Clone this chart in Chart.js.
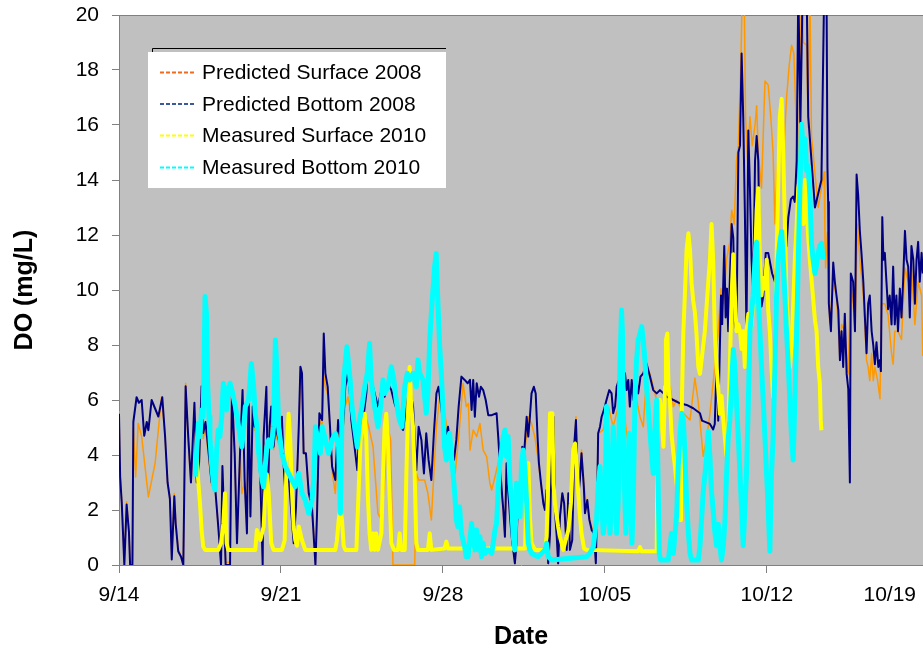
<!DOCTYPE html>
<html><head><meta charset="utf-8">
<script src="https://cdn.jsdelivr.net/npm/chart.js@4"></script>
<style>html,body{margin:0;padding:0;background:#fff;overflow:hidden}canvas{display:block}</style>
</head><body>
<canvas id="c" width="923" height="653"></canvas>
<script>
// ---- axis data ----
const tickDays = [0, 7, 14, 21, 28, 35];
const tickLabels = ['9/14', '9/21', '9/28', '10/05', '10/12', '10/19'];
const xMax = 34.75;          // days since 9/14 shown
const yMin = 0, yMax = 20, yStep = 2;
const seriesNames = ['Predicted Surface 2008', 'Predicted Bottom 2008', 'Measured Surface 2010', 'Measured Bottom 2010'];

// ---- Predicted Surface 2008 (days since 9/14, DO mg/L) ----
const psDay = [0.00,0.05,0.12,0.23,0.33,0.43,0.48,0.58,0.62,0.72,0.83,0.98,1.27,1.56,1.84,1.99,2.10,2.20,2.28,2.39,2.45,2.56,2.68,2.78,2.88,2.99,3.11,3.26,3.36,3.46,3.57,3.64,3.74,3.86,4.00,4.12,4.29,4.41,4.47,4.61,4.80,4.87,5.00,5.10,5.24,5.31,5.43,5.53,5.60,5.68,5.78,5.86,5.96,6.11,6.21,6.25,6.32,6.44,6.51,6.58,6.68,6.76,6.90,7.04,7.12,7.19,7.33,7.45,7.55,7.65,7.77,7.86,7.91,7.98,8.08,8.20,8.34,8.49,8.56,8.66,8.78,8.85,8.92,9.02,9.12,9.21,9.28,9.35,9.47,9.58,9.68,9.78,9.90,10.11,10.33,10.62,10.79,10.98,11.19,11.34,11.48,11.62,11.74,11.84,12.78,12.85,12.95,13.21,13.35,13.50,13.61,13.72,13.86,14.07,14.36,14.53,14.72,14.87,15.01,15.10,15.17,15.31,15.46,15.60,15.74,15.89,16.03,16.11,16.25,16.39,16.46,16.54,16.61,16.68,16.75,16.82,16.90,16.97,17.04,17.11,17.18,17.26,17.33,17.43,17.52,17.69,17.83,17.97,18.09,18.24,18.41,18.48,18.55,18.63,18.70,18.78,18.84,18.92,18.98,19.06,19.16,19.24,19.35,19.42,19.49,19.59,19.68,19.75,19.85,19.92,19.99,20.09,20.21,20.35,20.50,20.61,20.71,20.93,21.15,21.36,21.65,21.80,21.94,22.08,22.23,22.37,22.52,22.66,22.80,22.95,23.09,23.24,23.38,23.53,23.67,23.81,23.96,24.10,24.25,24.39,24.68,24.89,25.04,25.18,25.25,25.40,25.54,25.75,25.90,26.02,26.12,26.26,26.40,26.48,26.59,26.69,26.77,26.88,26.94,27.02,27.08,27.17,27.27,27.37,27.49,27.56,27.63,27.77,27.92,28.06,28.17,28.27,28.35,28.42,28.49,28.61,28.71,28.85,28.97,29.07,29.17,29.26,29.36,29.43,29.50,29.58,29.72,29.79,29.86,29.93,30.22,30.48,30.51,30.54,30.62,30.68,30.72,30.87,31.01,31.16,31.23,31.37,31.52,31.62,31.73,31.81,31.92,32.02,32.17,32.31,32.38,32.45,32.53,32.60,32.67,32.79,32.89,32.96,33.10,33.24,33.39,33.46,33.53,33.67,33.82,33.97,34.11,34.25,34.40,34.54,34.69,34.74];
const psDO = [5.6,3.3,2.3,0.1,2.3,1.2,0.1,0.1,5.0,3.2,5.15,4.67,2.48,3.70,6.12,4.67,3.0,2.5,0.3,2.6,1.6,0.6,0.3,0.1,6.61,4.5,3.0,5.6,3.0,3.4,6.2,4.6,5.0,4.0,2.9,3.1,1.4,0.1,3.4,0.1,0.1,5.8,4.0,0.9,4.1,2.6,3.0,1.3,5.9,1.9,5.5,4.9,5.0,3.1,0.2,4.4,2.6,2.8,4.8,5.5,4.2,4.8,4.4,5.2,3.6,2.7,3.3,2.0,0.9,2.2,4.9,7.2,6.8,4.2,4.0,2.7,2.2,0.1,2.0,5.3,5.0,6.9,6.5,6.2,5.0,3.4,3.0,2.6,4.8,4.3,4.9,5.8,6.12,5.03,4.06,5.52,5.03,4.30,1.88,1.64,3.09,5.03,4.55,0,0,3.33,3.09,3.09,2.61,1.64,3.33,5.03,6.12,5.52,4.06,3.33,5.03,6.61,5.76,5.88,4.18,4.91,4.67,5.15,4.18,3.94,2.97,2.73,3.21,3.70,3.5,2.6,2.0,1.1,3.5,2.6,1.8,1.1,0.6,0.1,0.8,2.6,1.8,4.1,4.0,5.39,5.15,4.67,4.0,2.9,2.0,2.6,0.1,1.2,4.5,5.2,2.0,1.1,0.1,1.7,2.6,2.24,0.6,2.6,0.6,0.9,4.3,5.39,2.6,3.4,4.18,3.0,2.12,1.64,1.15,0.18,4.79,4.91,5.76,5.03,6.0,5.76,4.79,4.06,4.79,6.0,5.39,5.03,6.85,6.97,6.48,6.0,5.03,5.52,6.24,6.48,5.76,6.0,5.76,5.52,5.27,6.8,5.9,4.6,3.95,4.6,5.5,7.2,8.5,10.05,9.5,11.1,11.75,12.9,12.4,14.7,15.25,18.3,21,21,16.3,14.7,16.3,15.25,16.0,16.7,15.0,13.7,17.6,17.45,16.3,15.0,12.4,13.7,15.0,16.3,14.7,16.95,18.2,18.9,18.6,16.3,13.7,17.6,21,19,18.9,15.9,21,15.6,13.0,14.3,12.1,10.8,12.1,9.8,8.75,10.3,9.8,7.45,8.75,8.5,6.95,10.3,9.5,8.5,12.4,11.1,9.8,7.45,7.2,6.7,7.7,6.7,7.2,6.7,6.05,9.5,9.5,9.1,7.7,7.3,8.5,8.5,8.2,10.8,10.3,10.8,8.75,10.3,9.8,7.6];

// ---- Predicted Bottom 2008 ----
const pbDay = [0.00,0.05,0.12,0.23,0.33,0.43,0.48,0.58,0.62,0.76,0.86,0.98,1.09,1.20,1.27,1.41,1.70,1.87,1.99,2.10,2.20,2.28,2.39,2.45,2.56,2.68,2.78,2.88,2.99,3.11,3.26,3.36,3.46,3.57,3.64,3.74,3.86,4.00,4.12,4.29,4.41,4.47,4.61,4.80,4.88,5.00,5.10,5.24,5.34,5.43,5.53,5.60,5.68,5.78,5.86,5.96,6.11,6.21,6.25,6.37,6.44,6.51,6.58,6.68,6.76,6.90,7.04,7.12,7.19,7.33,7.45,7.55,7.65,7.77,7.84,7.91,7.98,8.08,8.20,8.34,8.49,8.56,8.66,8.78,8.85,8.92,9.02,9.12,9.21,9.28,9.35,9.47,9.58,9.68,9.78,9.89,9.99,10.04,10.18,10.30,10.40,10.55,10.69,10.79,10.90,11.05,11.19,11.34,11.48,11.62,11.77,11.91,12.06,12.20,12.28,12.42,12.56,12.71,12.85,12.95,13.07,13.18,13.28,13.38,13.50,13.61,13.72,13.81,13.93,14.07,14.22,14.36,14.48,14.58,14.68,14.80,14.94,15.07,15.17,15.24,15.31,15.38,15.46,15.56,15.64,15.74,15.85,15.96,16.11,16.32,16.39,16.46,16.54,16.61,16.68,16.75,16.82,16.90,16.97,17.04,17.11,17.18,17.26,17.33,17.43,17.52,17.62,17.69,17.76,17.83,17.93,18.01,18.09,18.15,18.24,18.34,18.41,18.48,18.55,18.63,18.70,18.78,18.84,18.92,18.98,19.06,19.16,19.24,19.35,19.42,19.49,19.59,19.68,19.75,19.85,19.92,19.99,20.09,20.14,20.24,20.33,20.43,20.53,20.61,20.67,20.71,20.79,20.86,20.96,21.07,21.19,21.29,21.36,21.44,21.51,21.58,21.65,21.77,21.87,21.94,22.01,22.08,22.16,22.23,22.34,22.44,22.54,22.66,22.80,22.95,23.09,23.24,23.38,23.53,23.67,23.96,24.25,24.53,24.82,25.11,25.20,25.54,25.68,25.75,25.83,25.90,26.02,26.07,26.16,26.22,26.28,26.33,26.40,26.48,26.55,26.62,26.69,26.77,26.84,26.91,26.98,27.05,27.12,27.20,27.27,27.34,27.41,27.49,27.56,27.63,27.70,27.77,27.85,27.95,28.06,28.23,28.35,28.42,28.64,28.85,28.93,29.04,29.14,29.21,29.29,29.36,29.45,29.55,29.72,29.79,30.08,30.36,30.48,30.58,30.62,30.65,30.68,30.77,30.87,30.94,31.01,31.09,31.16,31.23,31.30,31.37,31.45,31.52,31.59,31.63,31.73,31.81,31.88,31.95,32.02,32.09,32.17,32.24,32.31,32.38,32.45,32.53,32.60,32.67,32.74,32.82,32.89,32.93,32.99,33.04,33.10,33.17,33.24,33.31,33.39,33.46,33.53,33.60,33.67,33.75,33.82,33.89,33.97,34.04,34.11,34.18,34.25,34.33,34.40,34.47,34.54,34.61,34.69,34.74];
const pbDO = [5.5,3.2,2.25,0,2.2,1.2,0,0,5.2,6.1,5.9,6.0,4.7,5.2,4.9,6.0,5.4,6.1,4.7,3.0,2.4,0.2,2.5,1.5,0.5,0.3,0,6.5,4.7,3.0,5.9,3.0,3.7,6.5,4.8,5.2,4.2,3.0,3.2,1.4,0,3.6,0,0,6.3,4.06,0.79,4.30,6.36,3.09,1.15,6.36,1.76,5.76,5.03,5.27,3.09,0,4.67,6.48,2.61,5.03,5.76,4.30,5.03,4.55,5.39,3.58,2.61,3.33,1.88,0.79,2.12,5.03,7.21,6.97,4.06,4.06,2.61,2.12,0,1.88,5.52,5.27,8.42,6.97,6.48,5.03,3.58,3.33,3.09,5.27,4.55,5.03,6.48,6.97,6.1,5.27,4.30,3.45,5.03,5.27,6.24,7.58,6.73,6.24,5.76,6.36,6.12,6.61,6.36,5.88,5.52,5.03,4.91,5.76,6.48,5.76,3.45,5.03,4.55,3.33,4.79,3.82,3.09,4.79,6.24,6.48,5.76,4.55,5.03,4.06,3.82,4.55,5.76,6.85,6.73,6.61,6.73,5.64,6.73,5.39,6.61,6.12,6.48,6.36,6.0,5.45,5.45,5.52,4.67,3.70,2.73,2.0,1.03,3.70,2.73,1.76,1.03,0.55,0.06,0.79,2.73,1.76,4.30,4.18,5.39,4.67,5.39,6.24,6.48,6.24,4.67,3.70,2.97,2.24,2.0,2.73,0.06,1.15,4.67,5.39,2.0,1.03,0.06,1.76,2.61,2.24,0.55,2.61,0.55,0.91,4.42,5.27,2.48,3.09,4.06,2.85,1.88,2.36,1.64,1.27,1.15,0.06,2.61,4.79,5.03,5.39,5.64,6.0,6.36,6.24,5.52,5.76,6.48,6.67,6.48,5.52,6.97,6.36,6.73,5.76,6.73,6.0,6.85,6.24,6.85,6.97,7.33,6.85,6.36,6.24,6.36,6.24,6.12,6.0,5.88,5.82,5.70,5.52,5.25,5.13,4.93,5.13,7.33,5.25,9.8,8.76,11.6,9.0,10.05,8.5,10.3,12.4,11.9,8.75,8.5,15.0,15.25,18.6,16.3,12.9,8.5,15.8,13.7,11.1,9.8,14.7,15.6,14.7,11.1,9.4,9.8,11.35,11.35,10.6,10.3,11.1,11.2,11.6,12.65,13.3,13.4,13.2,14.7,21,16.0,21,21,16.3,13.0,14.0,21,21,14.47,13.2,9.5,8.5,11.0,10.3,9.8,9.27,7.45,8.5,7.2,9.14,6.95,6.4,3.0,10.6,10.3,8.5,14.2,13.43,12.15,11.35,10.3,9.0,7.7,9.5,9.8,8.5,8.0,7.3,8.1,7.2,7.45,7.05,12.65,11.1,11.35,10.3,9.3,9.8,8.75,10.85,8.75,9.8,8.5,10.05,9.0,10.3,12.15,11.1,10.85,9.0,11.6,11.1,9.5,11.1,11.75,10.3,11.35,10.6];

// ---- Measured Surface 2010 ----
const msDay = [3.36,3.43,3.50,3.57,3.64,3.72,4.29,4.41,4.51,4.58,4.65,4.72,5.89,5.96,6.11,6.25,6.32,6.39,6.47,6.58,6.68,7.04,7.16,7.26,7.33,7.40,7.48,7.55,7.62,7.69,7.77,7.84,7.91,8.05,9.35,9.42,9.49,9.57,9.64,9.71,9.78,10.26,10.33,10.44,10.54,10.62,10.69,10.76,10.83,10.90,10.98,11.05,11.12,11.19,11.34,11.41,11.48,11.55,11.62,11.70,11.77,11.88,12.06,12.13,12.20,12.35,12.42,12.49,12.56,12.63,12.71,12.78,12.85,12.92,13.35,13.43,13.50,14.07,14.15,14.22,17.55,17.62,17.69,17.76,17.83,17.98,18.41,18.48,18.55,18.63,18.73,18.78,18.84,18.92,18.98,19.06,19.13,19.20,19.27,19.35,19.42,19.53,19.63,19.71,19.78,19.85,19.92,19.99,20.10,20.21,22.44,22.52,22.59,23.24,23.26,23.32,23.38,23.45,23.53,23.60,23.64,23.70,23.75,23.81,23.88,23.96,24.03,24.10,24.17,24.22,24.25,24.29,24.33,24.39,24.46,24.53,24.61,24.68,24.75,24.82,24.89,24.96,25.04,25.11,25.18,25.32,25.47,25.54,25.61,25.68,25.75,25.83,25.90,25.97,26.04,26.12,26.19,26.26,26.33,26.40,26.48,26.55,26.62,26.69,26.77,26.84,26.91,26.98,27.05,27.12,27.20,27.27,27.34,27.41,27.49,27.56,27.63,27.70,27.77,27.85,27.92,27.99,28.06,28.13,28.20,28.27,28.35,28.42,28.49,28.56,28.64,28.71,28.78,28.85,28.93,29.00,29.07,29.14,29.21,29.29,29.36,29.43,29.50,29.58,29.65,29.72,29.79,29.86,29.93,30.08,30.15,30.22,30.29,30.33,30.36];
const msDO = [3.94,2.97,2.24,1.27,0.67,0.55,0.55,0.79,1.52,2.61,0.79,0.55,0.55,1.27,0.91,1.39,2.6,3.3,2.6,0.8,0.55,0.55,0.9,4.3,5.5,4.55,2.6,1.4,0.9,0.7,1.4,1.15,0.9,0.55,0.55,0.9,1.6,2.1,1.6,0.7,0.55,0.55,2.1,4.55,5.03,5.5,4.55,2.4,1.15,0.55,1.15,0.55,1.15,0.55,1.15,3.3,5.0,5.5,4.55,2.4,0.8,0.55,0.55,1.15,0.55,0.55,3.3,5.5,7.2,5.8,5.0,3.3,0.8,0.55,0.55,1.15,0.55,0.6,0.85,0.6,0.6,2.97,3.70,1.76,0.79,0.55,0.55,1.03,2.97,5.52,5.52,2.97,2.24,1.76,1.39,1.03,0.79,0.55,0.79,1.03,1.27,2.24,4.18,4.42,3.70,2.6,1.8,1.15,0.6,0.55,0.5,0.65,0.5,0.5,2.73,5.76,6.0,5.52,4.30,6.48,8.18,8.42,6.48,6.0,4.79,4.06,3.58,2.97,2.36,1.64,1.64,3.58,6.0,8.42,9.88,11.45,12.06,11.45,10.24,9.6,9.2,8.4,7.2,6.95,7.45,8.5,10.3,11.1,12.4,11.1,8.5,7.2,6.4,5.5,6.15,5.25,4.6,3.95,4.86,7.2,9.8,11.3,9.8,8.5,8.75,8.5,7.85,8.5,7.2,8.5,9.14,8.5,8.75,9.5,11.1,12.9,13.7,11.1,9.8,10.44,10.05,11.1,9.27,8.5,7.2,6.1,7.2,11.1,13.7,16.3,16.95,15.0,12.4,9.8,8.5,7.2,7.97,9.5,11.1,12.4,13.7,14.1,13.0,12.4,14.0,13.0,11.9,11.1,10.4,8.9,8.5,7.2,6.6,5.25,4.9];

// ---- Measured Bottom 2010 ----
const mbDay = [3.31,3.36,3.43,3.50,3.57,3.64,3.72,3.79,3.83,3.89,3.93,4.00,4.08,4.15,4.22,4.29,4.36,4.44,4.51,4.58,4.65,4.72,4.80,4.88,5.03,5.17,5.31,5.39,5.46,5.60,5.72,5.82,5.89,5.96,6.04,6.11,6.18,6.25,6.32,6.39,6.47,6.58,6.68,6.76,6.83,6.90,7.04,7.19,7.33,7.48,7.62,7.77,7.91,8.05,8.20,8.34,8.42,8.49,8.60,8.70,8.78,8.92,9.06,9.21,9.35,9.49,9.57,9.64,9.71,9.85,9.99,10.07,10.18,10.30,10.40,10.50,10.62,10.73,10.83,10.90,11.05,11.19,11.31,11.41,11.48,11.62,11.77,11.88,11.98,12.12,12.23,12.35,12.46,12.56,12.71,12.85,12.92,13.00,13.14,13.28,13.35,13.43,13.50,13.57,13.64,13.71,13.79,13.86,13.93,14.00,14.07,14.15,14.22,14.29,14.36,14.44,14.51,14.58,14.65,14.72,14.80,14.87,14.94,15.01,15.09,15.24,15.31,15.38,15.46,15.53,15.60,15.67,15.74,15.82,15.96,16.11,16.25,16.32,16.39,16.46,16.54,16.61,16.68,16.75,16.82,16.90,16.97,17.04,17.11,17.18,17.26,17.33,17.40,17.47,17.55,17.62,17.69,17.76,17.83,18.12,18.41,18.48,18.55,18.70,20.21,20.35,20.50,20.64,20.71,20.79,20.86,20.93,21.00,21.07,21.15,21.22,21.29,21.36,21.44,21.51,21.58,21.65,21.72,21.76,21.82,21.91,21.96,22.05,22.11,22.17,22.23,22.30,22.37,22.44,22.52,22.59,22.66,22.73,22.80,22.87,22.95,23.02,23.09,23.16,23.24,23.31,23.35,23.41,23.74,23.81,23.88,23.96,24.03,24.10,24.17,24.25,24.32,24.39,24.46,24.53,24.61,24.68,24.75,25.04,25.11,25.25,25.40,25.47,25.54,25.61,25.68,25.75,25.83,25.90,25.97,26.04,26.12,26.19,26.26,26.33,26.40,26.48,26.55,26.62,26.69,26.77,26.84,26.91,26.98,27.05,27.12,27.20,27.27,27.34,27.41,27.49,27.56,27.63,27.70,27.77,27.85,27.92,27.99,28.06,28.13,28.20,28.27,28.35,28.42,28.49,28.56,28.64,28.71,28.78,28.85,28.93,29.00,29.07,29.14,29.21,29.29,29.36,29.43,29.50,29.58,29.65,29.72,29.79,29.86,29.93,30.00,30.08,30.15,30.22,30.29,30.36,30.43];
const mbDO = [3.21,4.18,5.15,4.67,5.64,5.39,9.76,9.03,6.61,5.39,4.67,3.70,2.97,2.73,4.18,4.91,4.67,5.39,6.61,6.36,5.64,6.36,6.61,6.36,5.76,5.03,4.30,5.03,5.76,6.0,7.33,6.48,5.52,5.03,4.06,3.58,3.09,2.85,3.58,4.30,4.55,4.30,5.03,8.18,6.97,5.03,4.06,3.58,3.33,3.09,2.85,3.33,2.61,2.36,1.88,2.36,3.09,5.03,4.55,4.06,5.03,4.55,4.06,4.55,4.79,4.30,1.88,5.52,6.73,7.94,6.73,5.76,5.03,4.30,5.27,5.76,6.48,6.97,8.06,6.73,5.76,5.03,5.76,6.73,6.24,6.48,7.21,6.73,6.0,5.27,5.03,6.48,6.97,6.73,6.97,6.48,7.45,6.97,6.73,5.52,6.24,8.18,9.15,10.0,10.85,11.33,9.39,7.94,6.97,5.76,4.30,3.82,4.55,4.79,4.06,3.33,2.61,1.64,1.39,2.12,1.15,0.91,0.67,0.3,0.30,1.52,1.03,0.55,1.27,0.55,1.03,0.30,0.79,0.42,0.55,0.42,1.27,1.52,2.73,3.70,4.18,4.67,4.91,3.94,4.67,2.97,2.24,1.03,0.55,2.97,2.24,1.76,3.70,4.18,3.45,2.24,0.79,0.55,0.42,0.30,0.55,0.79,0.30,0.18,0.30,0.42,0.67,1.64,2.85,3.58,2.36,1.15,1.64,5.76,3.58,1.15,2.36,5.03,3.58,1.15,2.36,7.21,9.27,8.42,3.58,1.15,2.36,4.79,2.36,0.79,2.36,6.0,7.45,8.18,8.42,8.67,8.18,7.45,6.48,5.76,4.79,4.06,3.33,4.79,6.0,2.61,0.42,0.18,0.18,0.67,1.15,0.42,1.15,1.76,3.58,4.79,5.52,5.27,4.06,2.36,1.15,0.42,0.18,0.18,0.70,2.65,3.95,4.86,3.95,2.65,2.0,1.22,0.70,1.48,0.70,0.18,0.70,1.61,3.3,4.6,5.25,6.55,7.84,7.2,5.9,4.6,3.3,2.0,0.70,2.0,3.3,5.9,8.5,9.14,9.8,11.1,11.74,9.8,8.5,7.2,5.9,4.6,3.3,2.0,0.5,3.3,4.6,7.2,9.8,11.1,11.74,12.13,11.1,9.8,8.5,7.2,5.9,4.6,3.82,5.9,8.5,11.1,13.69,16.03,14.99,15.5,14.34,14.5,13.5,11.7,11.1,10.6,10.9,11.35,11.6,11.7,11.1];

// ---- styles ----
const seriesColors = ['#FF9900', '#000080', '#FFFF00', '#00FFFF'];
const legendColors = ['#F26A1B', '#3A5A9A', '#FFFF00', '#00FFFF'];
const seriesWidths = [1.5, 2, 4, 5];
const drawOrder = [4, 3, 2, 1];
const FONT = '"Liberation Sans", Arial, Helvetica, sans-serif';

const pairs = (d, v) => d.map((x, i) => ({ x: x, y: v[i] }));
const seriesData = [pairs(psDay, psDO), pairs(pbDay, pbDO), pairs(msDay, msDO), pairs(mbDay, mbDO)];

const bgPlugin = {
  id: 'bg',
  beforeDraw(chart) {
    const { ctx, chartArea: a } = chart;
    ctx.save();
    ctx.fillStyle = '#fff';
    ctx.fillRect(0, 0, chart.width, chart.height);
    ctx.fillStyle = '#C0C0C0';
    ctx.fillRect(a.left, a.top, a.right - a.left, a.bottom - a.top);
    ctx.strokeStyle = '#808080';
    ctx.lineWidth = 1;
    ctx.beginPath();
    ctx.moveTo(a.left, a.top + 0.5);
    ctx.lineTo(a.right, a.top + 0.5);
    ctx.stroke();
    ctx.restore();
  }
};

const legendPlugin = {
  id: 'boxLegend',
  afterDatasetsDraw(chart) {
    const { ctx, chartArea: a } = chart;
    const bx = a.left + 29, by = a.top + 37, bw = 298, bh = 136;
    ctx.save();
    ctx.fillStyle = '#fff';
    ctx.fillRect(bx, by, bw, bh);
    ctx.strokeStyle = '#000';
    ctx.lineWidth = 1;
    ctx.beginPath();
    ctx.moveTo(bx + 4.5, by);
    ctx.lineTo(bx + 4.5, by - 3.5);
    ctx.lineTo(bx + bw, by - 3.5);
    ctx.stroke();
    const rows = [20.5, 52, 83.5, 115.5];
    ctx.font = '21px ' + FONT;
    ctx.textBaseline = 'middle';
    ctx.textAlign = 'left';
    seriesNames.forEach((name, i) => {
      const y = by + rows[i];
      ctx.strokeStyle = legendColors[i];
      ctx.lineWidth = 2;
      ctx.setLineDash([4, 2]);
      ctx.beginPath();
      ctx.moveTo(bx + 12, y);
      ctx.lineTo(bx + 47, y);
      ctx.stroke();
      ctx.setLineDash([]);
      ctx.fillStyle = '#000';
      ctx.fillText(name, bx + 54, y + 1);
    });
    ctx.restore();
  }
};

const edgeTickPlugin = {
  id: 'edgeTick',
  afterDraw(chart) {
    const xs = chart.scales.x;
    const items = xs.getLabelItems();
    if (!items.length) return;
    const it = items[0];
    const { ctx, chartArea: a } = chart;
    ctx.save();
    ctx.font = it.font.string;
    ctx.fillStyle = '#000';
    ctx.textBaseline = it.options.textBaseline;
    ctx.textAlign = 'right';
    tickDays.forEach((d, i) => {
      if (d > xMax) ctx.fillText(tickLabels[i], a.right - 7, it.options.translation[1] + (it.textOffset || 0));
    });
    ctx.restore();
  }
};

new Chart(document.getElementById('c').getContext('2d'), {
  type: 'line',
  data: {
    datasets: seriesNames.map((n, i) => ({
      label: n,
      data: seriesData[i],
      borderColor: seriesColors[i],
      backgroundColor: seriesColors[i],
      borderWidth: seriesWidths[i],
      order: drawOrder[i],
      pointRadius: 0,
      tension: 0,
      fill: false,
      clip: 0,
      borderJoinStyle: 'round'
    }))
  },
  options: {
    responsive: false,
    animation: false,
    devicePixelRatio: 1,
    layout: { padding: { top: 15, left: 0, right: 0, bottom: 0 } },
    plugins: { legend: { display: false }, tooltip: { enabled: false } },
    scales: {
      x: {
        type: 'linear', min: 0, max: xMax,
        afterBuildTicks: (s) => { s.ticks = tickDays.filter(d => d <= xMax).map(v => ({ value: v })); },
        ticks: {
          callback: (v) => tickLabels[tickDays.indexOf(v)],
          color: '#000', font: { family: FONT, size: 21 }, padding: 10, maxRotation: 0, autoSkip: false
        },
        grid: { drawOnChartArea: false, drawTicks: true, tickLength: 8, color: '#808080' },
        border: { display: true, color: '#808080', width: 1 },
        title: { display: true, text: 'Date', color: '#000', font: { family: FONT, size: 25, weight: 'bold' }, padding: { top: 0, bottom: 1 } },
        afterFit: (s) => { s.height = 88; s.paddingLeft = 0; s.paddingRight = 0; }
      },
      y: {
        min: yMin, max: yMax,
        ticks: { stepSize: yStep, color: '#000', font: { family: FONT, size: 21 }, padding: 13 },
        grid: { drawOnChartArea: false, drawTicks: true, tickLength: 7, color: '#808080' },
        border: { display: true, color: '#808080', width: 1 },
        title: { display: true, text: 'DO (mg/L)', color: '#000', font: { family: FONT, size: 25, weight: 'bold' }, padding: { top: 10, bottom: 0 } },
        afterFit: (s) => { s.width = 119; s.paddingTop = 0; s.paddingBottom = 0; }
      }
    }
  },
  plugins: [bgPlugin, legendPlugin, edgeTickPlugin]
});
</script>
</body></html>
